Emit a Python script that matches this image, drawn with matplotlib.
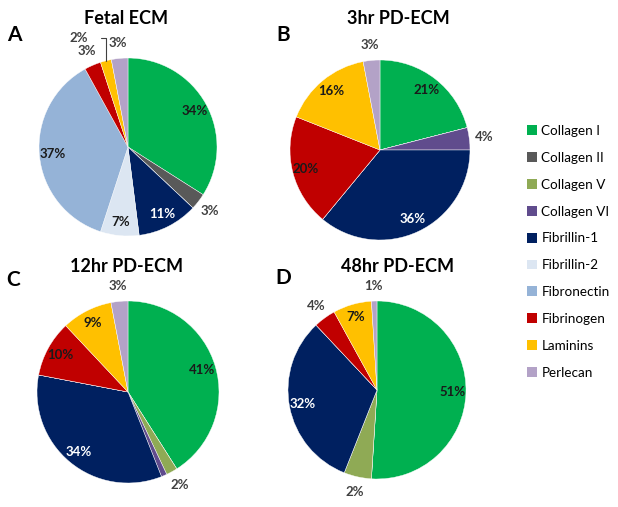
import matplotlib
matplotlib.use("Agg")
import matplotlib.pyplot as plt
from matplotlib.patches import Patch
import numpy as np

plt.rcParams['font.family'] = ['Lato', 'DejaVu Sans']

components = ['Collagen I', 'Collagen II', 'Collagen V', 'Collagen VI', 'Fibrillin-1',
              'Fibrillin-2', 'Fibronectin', 'Fibrinogen', 'Laminins', 'Perlecan']
colors = ['#00B050', '#595959', '#8FAA55', '#604C8D', '#002060',
          '#DCE6F2', '#95B3D7', '#C00000', '#FFC000', '#B3A2C7']

titles = ['Fetal ECM', '3hr PD-ECM', '12hr PD-ECM', '48hr PD-ECM']
letters = ['A', 'B', 'C', 'D']

# percentages per component (order as in components)
fetal = [34, 3, 0, 0, 11, 7, 37, 3, 2, 3]
hr3 = [21, 0, 0, 4, 36, 0, 0, 20, 16, 3]
hr12 = [41, 0, 2, 1, 34, 0, 0, 10, 9, 3]
hr48 = [51, 0, 5, 0, 32, 0, 0, 4, 7, 1]

# printed labels ('' = no label)
fetal_lbl = ['34%', '3%', '', '', '11%', '7%', '37%', '3%', '2%', '3%']
hr3_lbl = ['21%', '', '', '4%', '36%', '', '', '20%', '16%', '3%']
hr12_lbl = ['41%', '', '2%', '', '34%', '', '', '10%', '9%', '3%']
hr48_lbl = ['51%', '', '2%', '', '32%', '', '', '4%', '7%', '1%']

W, H = 618, 507
fig = plt.figure(figsize=(W / 100, H / 100), dpi=100)


def draw_pie(cx, cy, R, vals, lbls, title, letter, tx, ty, lx, ly, leader=None):
    s = 1.5
    ax = fig.add_axes([(cx - s * R) / W, 1 - (cy + s * R) / H, 2 * s * R / W, 2 * s * R / H])
    wedges, _ = ax.pie(vals, colors=colors, startangle=90, counterclock=False,
                       wedgeprops=dict(edgecolor='white', linewidth=0.3))
    ax.set_xlim(-s, s)
    ax.set_ylim(-s, s)
    ax.axis('off')
    for i, (w, lab) in enumerate(zip(wedges, lbls)):
        if not lab:
            continue
        th = np.deg2rad((w.theta1 + w.theta2) / 2)
        if i == leader:
            xe, ye = np.cos(th), np.sin(th)
            ax.annotate(lab, xy=(xe, ye), xytext=(-0.55, 1.23), fontsize=9.5,
                        fontweight='bold', color='#404040', ha='center', va='center',
                        arrowprops=dict(arrowstyle='-', color='#404040', lw=0.8,
                                        connectionstyle='angle,angleA=0,angleB=90,rad=0',
                                        shrinkA=7, shrinkB=0))
            continue
        if vals[i] < 6:
            r, col = 1.17, '#404040'
        else:
            r = 0.85
            col = 'white' if colors[i] == '#002060' else '#1a1a1a'
        ax.text(r * np.cos(th), r * np.sin(th), lab, ha='center', va='center',
                fontsize=9.5, fontweight='bold', color=col)
    fig.text(tx / W, 1 - ty / H, title, ha='center', va='center', fontsize=13, fontweight='bold')
    fig.text(lx / W, 1 - ly / H, letter, ha='center', va='center', fontsize=15, fontweight='bold')


draw_pie(128, 147, 89, fetal, fetal_lbl, titles[0], letters[0], 126, 19, 14, 35, leader=8)
draw_pie(380, 150, 90, hr3, hr3_lbl, titles[1], letters[1], 398, 19, 283, 35)
draw_pie(128, 392, 91, hr12, hr12_lbl, titles[2], letters[2], 127, 266, 13, 280)
draw_pie(377, 390, 89, hr48, hr48_lbl, titles[3], letters[3], 398, 266, 283, 278)

handles = [Patch(facecolor=c, edgecolor='none') for c in colors]
fig.legend(handles, components, loc='upper left', bbox_to_anchor=(515 / W, 1 - 113 / H),
           frameon=False, fontsize=9.7, labelspacing=1.1, handlelength=0.75,
           handleheight=0.75, handletextpad=0.3)

fig.savefig('out.png', dpi=100)
